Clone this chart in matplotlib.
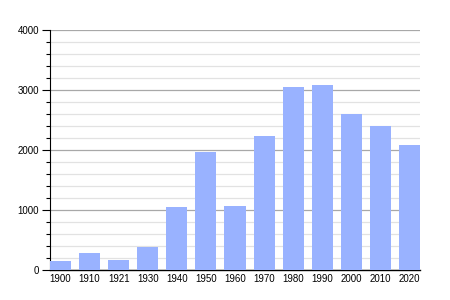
import matplotlib
matplotlib.use("Agg")
import matplotlib.pyplot as plt
from matplotlib.ticker import MultipleLocator

plt.rcParams['font.family'] = ['Liberation Sans', 'DejaVu Sans']

# 年份与人口
years = ['1900', '1910', '1921', '1930', '1940', '1950', '1960',
         '1970', '1980', '1990', '2000', '2010', '2020']
population = [150, 285, 173, 391, 1056, 1961, 1073,
              2239, 3056, 3089, 2606, 2394, 2089]

fig = plt.figure(figsize=(4.5, 3), dpi=100)
ax = fig.add_axes([50/450, 0.1, 370/450, 0.8])

x = range(len(years))
bw = 21/29
ax.bar(x, population, width=bw, color='#99b2ff', zorder=3)

ax.set_xlim(-bw/2, len(years) - 1 + bw/2)
ax.set_ylim(0, 4000)
ax.yaxis.set_major_locator(MultipleLocator(1000))
ax.yaxis.set_minor_locator(MultipleLocator(200))

# 网格线：主刻度深灰，次刻度浅灰
ax.grid(axis='y', which='major', color='#a8a8a8', linewidth=0.9, zorder=1)
ax.grid(axis='y', which='minor', color='#e2e2e2', linewidth=0.9, zorder=0)

ax.set_xticks(list(x))
ax.set_xticklabels(years)
ax.tick_params(axis='x', length=0, pad=3, labelsize=7)
ax.tick_params(axis='y', which='major', length=6, width=0.8, labelsize=7, pad=2)
ax.tick_params(axis='y', which='minor', length=3, width=0.8)

for s in ['top', 'right']:
    ax.spines[s].set_visible(False)
ax.spines['left'].set_linewidth(0.8)
ax.spines['bottom'].set_linewidth(1.0)

fig.savefig('out.png', dpi=100)
